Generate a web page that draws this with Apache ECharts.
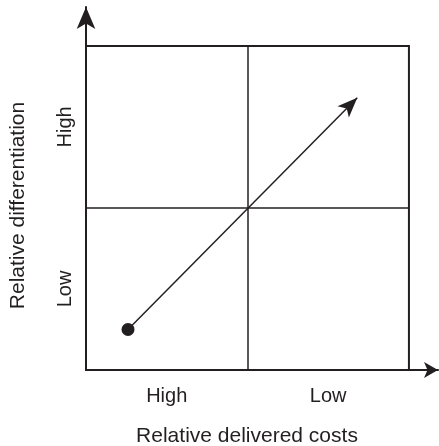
<!DOCTYPE html>
<html>
<head>
<meta charset="utf-8">
<script src="https://cdn.jsdelivr.net/npm/echarts@6/dist/echarts.min.js"></script>
<style>
  html, body { margin: 0; padding: 0; background: #fff; }
  #chart { width: 439px; height: 446px; }
</style>
</head>
<body>
<div id="chart"></div>
<script>
// axis tick positions and their labels
var xTicks = [0.5, 1.5]
var xTickLabels = ['High', 'Low']
var yTicks = [0.5, 1.5]
var yTickLabels = ['Low', 'High']

// the matrix frame and its dividers
var boxMax = 2
var divider = 1

// movement arrow: start dot and arrow tip
var arrowStart = [0.26, 0.25]
var arrowEnd = [1.68, 1.68]

var xName = 'Relative delivered costs'
var yName = 'Relative differentiation'

var ink = '#231f20'
var font = 'Liberation Sans, Arial, sans-serif'

function tickText(ticks, labels) {
	return function (value) {
		for (var i = 0; i < ticks.length; i++) {
			if (Math.abs(value - ticks[i]) < 1e-6) return labels[i]
		}
		return ''
	}
}

var chartDom = document.getElementById('chart')
var myChart = echarts.init(chartDom)
var option

option = {
	animation: false,
	grid: { left: 86, right: 1, top: 7, bottom: 76, containLabel: false, outerBoundsMode: 'none' },
	xAxis: {
		type: 'value',
		min: 0,
		max: 2.18,
		interval: 0.5,
		name: xName,
		nameLocation: 'middle',
		nameGap: 56,
		nameTextStyle: { color: ink, fontSize: 21, fontFamily: font, padding: [0, 30, 0, 0] },
		axisLine: { show: true, symbol: ['none', 'arrow'], symbolSize: [12, 14], lineStyle: { color: ink, width: 2 } },
		axisTick: { show: false },
		splitLine: { show: false },
		axisLabel: { showMaxLabel: false, margin: 16, color: ink, fontSize: 20, fontFamily: font, formatter: tickText(xTicks, xTickLabels) }
	},
	yAxis: {
		type: 'value',
		min: 0,
		max: 2.24,
		interval: 0.5,
		name: yName,
		nameLocation: 'middle',
		nameGap: 57,
		// push the title down so it centres on the box, not on the arrow
		nameTextStyle: { color: ink, fontSize: 21, fontFamily: font, padding: [0, 34, 0, 0] },
		axisLine: { show: true, symbol: ['none', 'arrow'], symbolSize: [14, 22], lineStyle: { color: ink, width: 2 } },
		axisTick: { show: false },
		splitLine: { show: false },
		axisLabel: { showMaxLabel: false, rotate: 90, margin: 11, color: ink, fontSize: 20, fontFamily: font, formatter: tickText(yTicks, yTickLabels) }
	},
	series: [
		{
			// frame + quadrant dividers
			type: 'line',
			data: [],
			silent: true,
			markArea: {
				silent: true,
				label: { show: false },
				itemStyle: { color: 'rgba(0,0,0,0)', borderColor: ink, borderWidth: 2 },
				data: [[{ coord: [0, 0] }, { coord: [boxMax, boxMax] }]]
			},
			markLine: {
				silent: true,
				symbol: ['none', 'none'],
				label: { show: false },
				lineStyle: { color: ink, width: 1.5, type: 'solid' },
				data: [
					[{ coord: [divider, 0] }, { coord: [divider, boxMax] }],
					[{ coord: [0, divider] }, { coord: [boxMax, divider] }]
				]
			}
		},
		{
			// the movement arrow
			type: 'line',
			data: [],
			silent: true,
			markLine: {
				silent: true,
				symbol: ['circle', 'arrow'],
				label: { show: false },
				lineStyle: { color: ink, width: 1.5, type: 'solid' },
				itemStyle: { color: ink },
				data: [[{ coord: arrowStart, symbol: 'circle', symbolSize: 13 }, { coord: arrowEnd, symbol: 'arrow', symbolSize: [12, 20] }]]
			}
		}
	]
}

option && myChart.setOption(option)
</script>
</body>
</html>
